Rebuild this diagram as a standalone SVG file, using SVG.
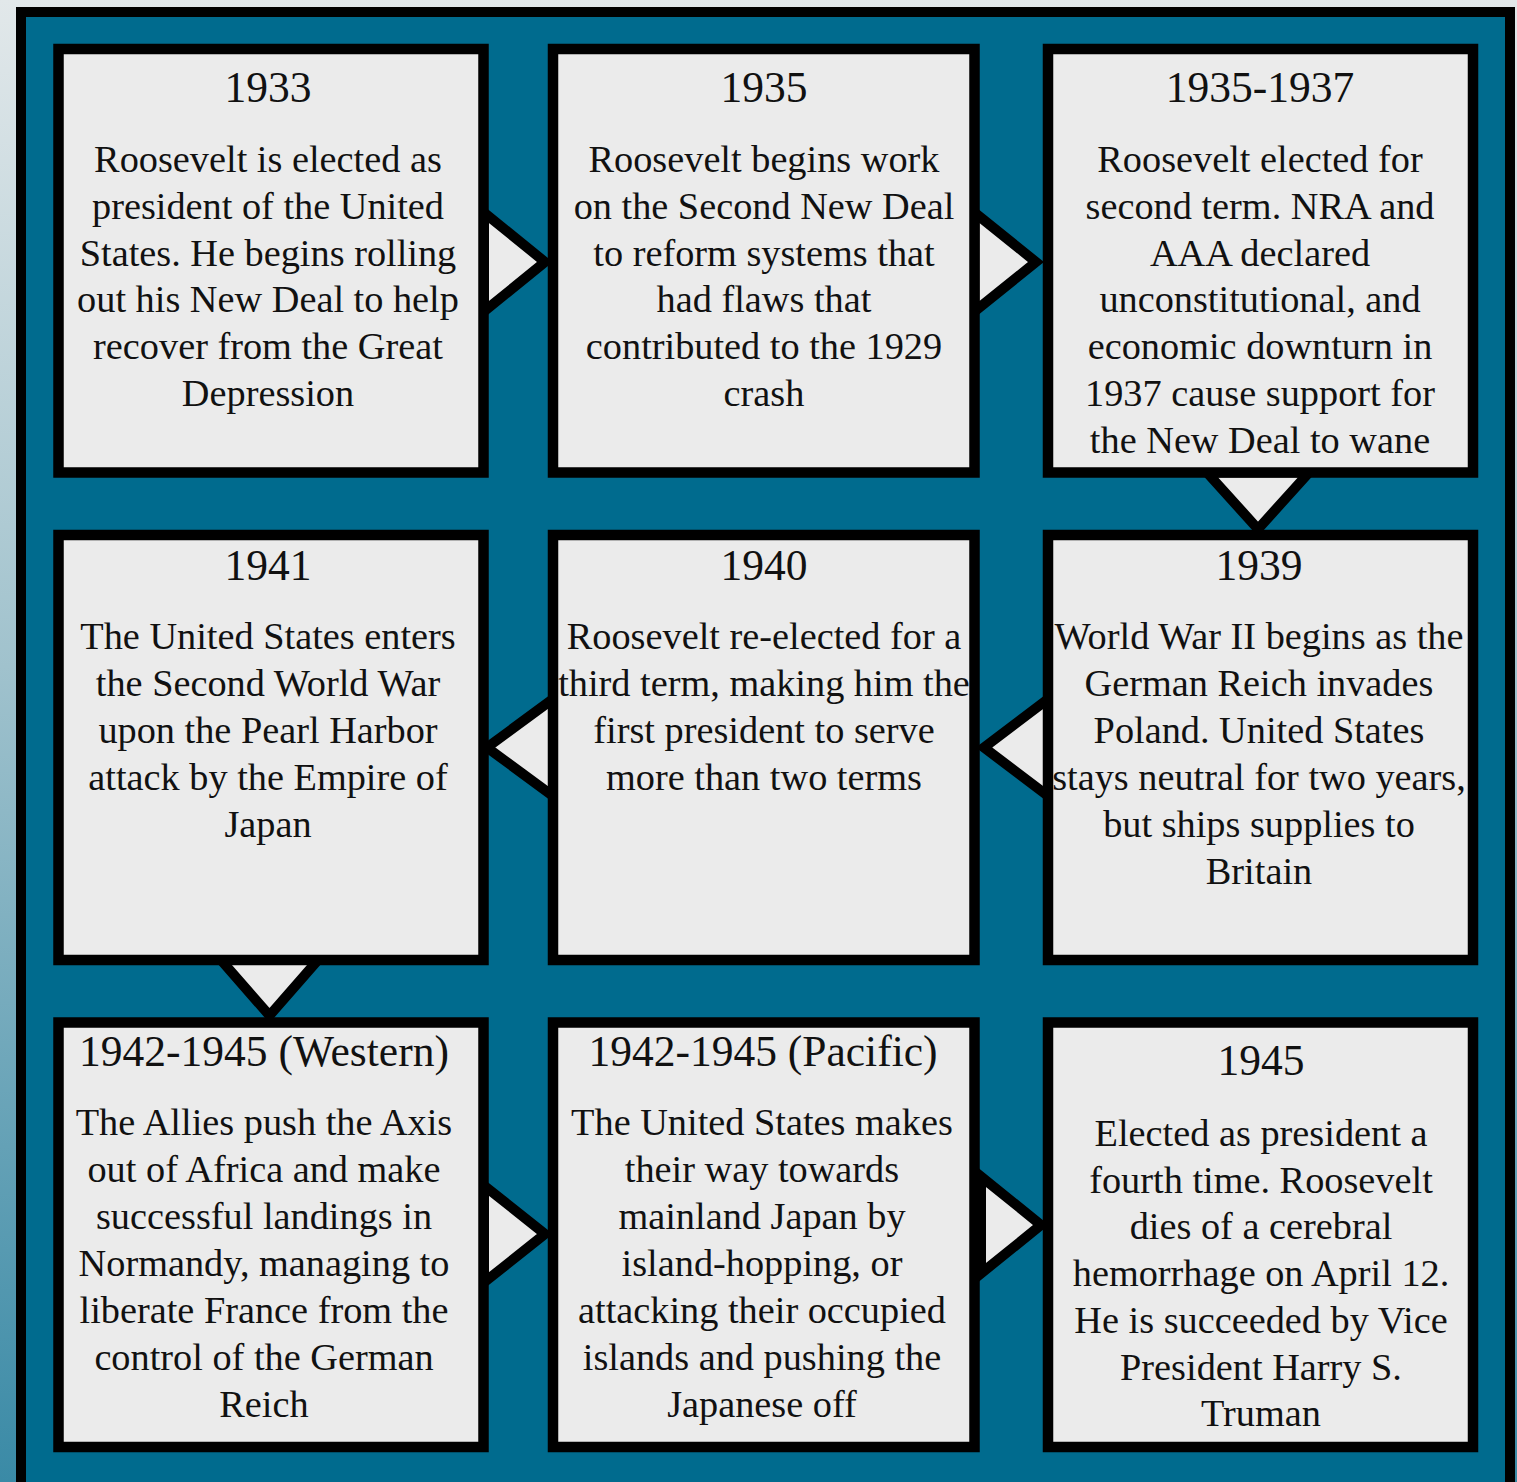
<svg xmlns="http://www.w3.org/2000/svg" width="1517" height="1482" viewBox="0 0 1517 1482">
<defs>
<linearGradient id="bg" x1="0" y1="0" x2="0" y2="1">
<stop offset="0" stop-color="#e2e8ea"/>
<stop offset="0.45" stop-color="#a0c2cd"/>
<stop offset="1" stop-color="#3a8aa6"/>
</linearGradient>
<style>
.box{fill:#ebebeb;stroke:#000;stroke-width:10.5;}
.arr{fill:#ebebeb;stroke:#000;stroke-width:10;stroke-linejoin:miter;stroke-miterlimit:10;}
.t{font-family:"Liberation Serif","Times New Roman",serif;fill:#111;text-anchor:middle;}
.h{font-size:43.5px;}
.b{font-size:38.3px;}
</style>
</defs>
<rect x="0" y="0" width="1517" height="1482" fill="url(#bg)"/>
<rect id="frame" x="21" y="12" width="1489" height="1480" fill="#006b8e" stroke="#000" stroke-width="10"/>
<g id="connectors">
<polygon class="arr" points="484,212.5 484,311.5 545,262"/>
<polygon class="arr" points="974.5,212.5 974.5,311.5 1036,262"/>
<polygon class="arr" points="1207,472.5 1309,472.5 1258,529"/>
<polygon class="arr" points="1048,699 1048,796 984,747.5"/>
<polygon class="arr" points="553,699 553,796 487,747.5"/>
<polygon class="arr" points="221,960 318,960 269.5,1015.5"/>
<polygon class="arr" points="484,1185.5 484,1282.5 545,1234"/>
<polygon class="arr" points="981,1176.5 981,1273.5 1041,1225"/>
</g>
<g id="n1933">
<rect class="box" x="58.5" y="49" width="425" height="423.5"/>
<text class="t h" x="268" y="102">1933</text>
<text class="t b" x="268" y="172"><tspan x="268">Roosevelt is elected as</tspan><tspan x="268" dy="46.8">president of the United</tspan><tspan x="268" dy="46.8">States. He begins rolling</tspan><tspan x="268" dy="46.8">out his New Deal to help</tspan><tspan x="268" dy="46.8">recover from the Great</tspan><tspan x="268" dy="46.8">Depression</tspan></text>
</g>
<g id="n1935">
<rect class="box" x="553" y="49" width="421.5" height="423.5"/>
<text class="t h" x="764" y="102">1935</text>
<text class="t b" x="764" y="172"><tspan x="764">Roosevelt begins work</tspan><tspan x="764" dy="46.8">on the Second New Deal</tspan><tspan x="764" dy="46.8">to reform systems that</tspan><tspan x="764" dy="46.8">had flaws that</tspan><tspan x="764" dy="46.8">contributed to the 1929</tspan><tspan x="764" dy="46.8">crash</tspan></text>
</g>
<g id="n1935-1937">
<rect class="box" x="1048" y="49" width="425" height="423.5"/>
<text class="t h" x="1260" y="102">1935-1937</text>
<text class="t b" x="1260" y="172"><tspan x="1260">Roosevelt elected for</tspan><tspan x="1260" dy="46.8">second term. NRA and</tspan><tspan x="1260" dy="46.8">AAA declared</tspan><tspan x="1260" dy="46.8">unconstitutional, and</tspan><tspan x="1260" dy="46.8">economic downturn in</tspan><tspan x="1260" dy="46.8">1937 cause support for</tspan><tspan x="1260" dy="46.8">the New Deal to wane</tspan></text>
</g>
<g id="n1941">
<rect class="box" x="58.5" y="535" width="425" height="425"/>
<text class="t h" x="268" y="580">1941</text>
<text class="t b" x="268" y="649"><tspan x="268">The United States enters</tspan><tspan x="268" dy="47">the Second World War</tspan><tspan x="268" dy="47">upon the Pearl Harbor</tspan><tspan x="268" dy="47">attack by the Empire of</tspan><tspan x="268" dy="47">Japan</tspan></text>
</g>
<g id="n1940">
<rect class="box" x="553" y="535" width="421.5" height="425"/>
<text class="t h" x="764" y="580">1940</text>
<text class="t b" x="764" y="649"><tspan x="764">Roosevelt re-elected for a</tspan><tspan x="764" dy="47">third term, making him the</tspan><tspan x="764" dy="47">first president to serve</tspan><tspan x="764" dy="47">more than two terms</tspan></text>
</g>
<g id="n1939">
<rect class="box" x="1048" y="535" width="425" height="425"/>
<text class="t h" x="1259" y="580">1939</text>
<text class="t b" x="1259" y="649"><tspan x="1259">World War II begins as the</tspan><tspan x="1259" dy="47">German Reich invades</tspan><tspan x="1259" dy="47">Poland. United States</tspan><tspan x="1259" dy="47">stays neutral for two years,</tspan><tspan x="1259" dy="47">but ships supplies to</tspan><tspan x="1259" dy="47">Britain</tspan></text>
</g>
<g id="n1942-western">
<rect class="box" x="58.5" y="1022.5" width="425" height="424.5"/>
<text class="t h" x="264" y="1066">1942-1945 (Western)</text>
<text class="t b" x="264" y="1135"><tspan x="264">The Allies push the Axis</tspan><tspan x="264" dy="47">out of Africa and make</tspan><tspan x="264" dy="47">successful landings in</tspan><tspan x="264" dy="47">Normandy, managing to</tspan><tspan x="264" dy="47">liberate France from the</tspan><tspan x="264" dy="47">control of the German</tspan><tspan x="264" dy="47">Reich</tspan></text>
</g>
<g id="n1942-pacific">
<rect class="box" x="553" y="1022.5" width="421.5" height="424.5"/>
<text class="t h" x="763" y="1066">1942-1945 (Pacific)</text>
<text class="t b" x="762" y="1135"><tspan x="762">The United States makes</tspan><tspan x="762" dy="47">their way towards</tspan><tspan x="762" dy="47">mainland Japan by</tspan><tspan x="762" dy="47">island-hopping, or</tspan><tspan x="762" dy="47">attacking their occupied</tspan><tspan x="762" dy="47">islands and pushing the</tspan><tspan x="762" dy="47">Japanese off</tspan></text>
</g>
<g id="n1945">
<rect class="box" x="1048" y="1022.5" width="425" height="424.5"/>
<text class="t h" x="1261" y="1075">1945</text>
<text class="t b" x="1261" y="1146"><tspan x="1261">Elected as president a</tspan><tspan x="1261" dy="46.7">fourth time. Roosevelt</tspan><tspan x="1261" dy="46.7">dies of a cerebral</tspan><tspan x="1261" dy="46.7">hemorrhage on April 12.</tspan><tspan x="1261" dy="46.7">He is succeeded by Vice</tspan><tspan x="1261" dy="46.7">President Harry S.</tspan><tspan x="1261" dy="46.7">Truman</tspan></text>
</g>
</svg>
